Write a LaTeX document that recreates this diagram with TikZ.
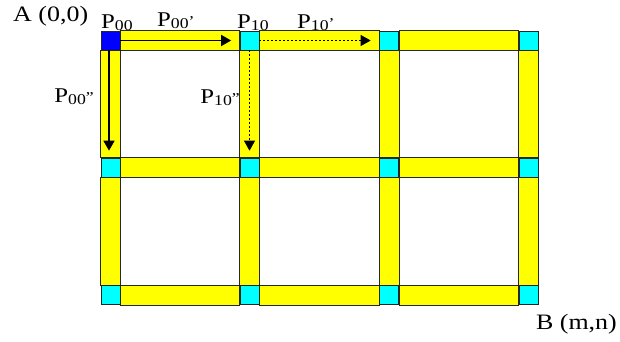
\documentclass[tikz,border=0pt]{standalone}
\usepackage{fontspec}
\setmainfont{Liberation Serif}[FakeStretch=1.18]
\usepackage{xcolor}
\usepackage{tikz}
\usetikzlibrary{arrows.meta, positioning}
\definecolor{baryellow}{RGB}{255, 255, 0}
\definecolor{nodecyan}{RGB}{0, 255, 255}
\definecolor{startblue}{RGB}{0, 0, 255}

% subscript and small primes in the label font
\def\sub#1{\raisebox{-2.5pt}{\fontsize{15}{15}\selectfont #1}}
\def\pr#1{{\fontsize{15}{15}\selectfont #1}}

\begin{document}
\begin{tikzpicture}[
  x=1pt, y=-1pt,
  >=Stealth,
  cell/.style={
    rectangle, draw=black!85, fill=nodecyan, line width=0.7pt,
    minimum size=19pt, inner sep=0pt
  },
  start/.style={cell, fill=startblue},
  bar/.style={draw=black!85, fill=baryellow, line width=0.7pt},
  lbl/.style={font=\fontsize{21}{21}\selectfont, inner sep=0pt, anchor=base west},
  lblleft/.style={lbl, anchor=base east},
  corner/.style={lbl, font=\fontsize{22}{22}\selectfont},
  solidarrow/.style={-{Triangle[length=10pt, width=11pt]}, line width=1.6pt},
  dotarrow/.style={-{Triangle[length=10pt, width=11pt]}, line width=0.7pt,
    dash pattern=on 2pt off 2pt},
]

\useasboundingbox (0,0) rectangle (620,341);

\def\colA{110.5}
\def\colB{249.5}
\def\colC{389}
\def\colD{528.5}
\def\rowA{40.5}
\def\rowB{167.5}
\def\rowC{295}

% 1. Grid points
\foreach \c/\x in {1/\colA, 2/\colB, 3/\colC, 4/\colD}
  \foreach \r/\y in {1/\rowA, 2/\rowB, 3/\rowC}
    \node[cell] (s\c\r) at (\x, \y) {};

% 2. Horizontal bars
\foreach \c/\nc in {1/2, 2/3, 3/4}
  \foreach \r in {1, 2, 3}
    \draw[bar] (s\c\r.north east) rectangle (s\nc\r.south west);

% 3. Vertical bars
\foreach \c in {1, 2, 3, 4}
  \foreach \r/\nr in {1/2, 2/3}
    \draw[bar] (s\c\r.south west) rectangle (s\c\nr.north east);

% 4. Start point A
\node[start] (s11) at (\colA, \rowA) {};

% 5. Derivatives at P00
\coordinate (p00r) at ([xshift=-8.5pt]s21.west);
\coordinate (p00d) at ([yshift=7pt]s12.north);
\draw[solidarrow] (s11.east) -- (p00r);
\draw[solidarrow] ([xshift=-1.5pt]s11.south) -- ([xshift=-1.5pt]p00d);

% 6. Derivatives at P10
\coordinate (p10r) at ([xshift=-8.5pt]s31.west);
\coordinate (p10d) at ([yshift=7pt]s22.north);
\draw[dotarrow] (s21.east) -- (p10r);
\draw[dotarrow] (s21.south) -- (p10d);

% 7. Labels
\node[corner] (lA) at (13, 21)   {A (0,0)};
\node[corner, anchor=base east] (lB) at (617, 329) {B (m,n)};
\node[lbl] (l00)  at (101, 28)  {P\sub{00}};
\node[lbl] (l00r) at (157, 26)  {P\sub{00}\pr{’}};
\node[lblleft] (l00d) at (94, 102)  {P\sub{00}\pr{”}};
\node[lbl] (l10)  at (237, 28)  {P\sub{10}};
\node[lbl] (l10r) at (297, 28)  {P\sub{10}\pr{’}};
\node[lblleft] (l10d) at (240, 103) {P\sub{10}\pr{”}};

\end{tikzpicture}
\end{document}
